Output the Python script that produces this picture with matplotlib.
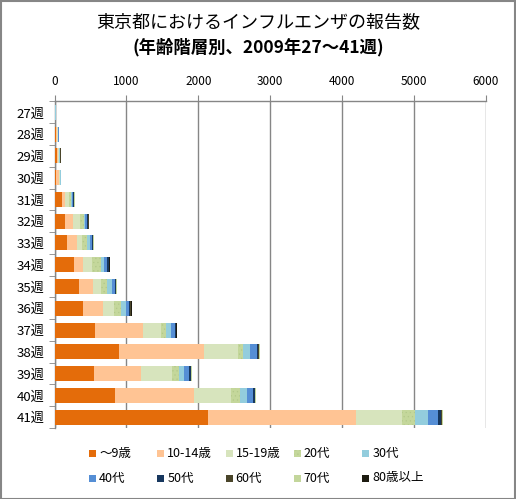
import numpy as np
import matplotlib.pyplot as plt
from matplotlib.patches import Rectangle

plt.rcParams['font.family'] = ['Noto Sans CJK JP', 'DejaVu Sans']
plt.rcParams['hatch.linewidth'] = 0.4

weeks = ['27週', '28週', '29週', '30週', '31週', '32週', '33週', '34週',
         '35週', '36週', '37週', '38週', '39週', '40週', '41週']

age_groups = ['～9歳', '10-14歳', '15-19歳', '20代', '30代',
              '40代', '50代', '60代', '70代', '80歳以上']

age_0_9 = [4, 22, 30, 18, 100, 152, 180, 270, 343, 393, 565, 899, 552, 843, 2136]
age_10_14 = [3, 14, 20, 40, 50, 100, 130, 130, 195, 287, 667, 1182, 654, 1099, 2059]
age_15_19 = [3, 8, 12, 14, 55, 97, 70, 125, 111, 148, 250, 473, 431, 515, 640]
age_20s = [2, 4, 6, 10, 28, 55, 65, 125, 83, 97, 65, 70, 97, 125, 181]
age_30s = [2, 6, 5, 3, 14, 18, 42, 42, 70, 70, 70, 97, 70, 97, 181]
age_40s = [1, 2, 3, 2, 14, 23, 37, 37, 37, 37, 56, 97, 70, 83, 139]
age_50s = [1, 1, 3, 1, 14, 14, 14, 23, 14, 23, 14, 14, 23, 28, 42]
age_60s = [6, 0, 8, 0, 3, 14, 2, 3, 3, 3, 3, 14, 3, 3, 10]
age_70s = [2, 1, 3, 1, 3, 3, 14, 3, 14, 3, 3, 14, 14, 14, 14]
age_80p = [1, 0, 0, 0, 0, 0, 0, 14, 0, 23, 14, 0, 0, 0, 3]

series = [age_0_9, age_10_14, age_15_19, age_20s, age_30s,
          age_40s, age_50s, age_60s, age_70s, age_80p]

colors = ['#E46C0A', '#FFC494', '#D7E4BD', '#C4D79B', '#93CDDD',
          '#558ED5', '#17375E', '#4A452A', '#C3D69B', '#1D1B10']

W, H = 516, 499
fig = plt.figure(figsize=(W / 100, H / 100), dpi=100)
ax = fig.add_axes([54.5 / W, 1 - 428 / H, (486 - 54.5) / W, (428 - 101.5) / H])

y = np.arange(len(weeks))
left = np.zeros(len(weeks))
for name, vals, c in zip(age_groups, series, colors):
    vals = np.array(vals, dtype=float)
    if name == '20代':
        ax.barh(y, vals, left=left, height=0.69, color=c, label=name,
                hatch='....', edgecolor='#B3C98A', linewidth=0, zorder=3)
    else:
        ax.barh(y, vals, left=left, height=0.69, color=c, label=name,
                linewidth=0, zorder=3)
    left += vals

ax.set_xlim(0, 6000)
ax.set_ylim(len(weeks) - 0.5, -0.5)
ax.set_xticks(np.arange(0, 6001, 1000))
ax.xaxis.tick_top()
ax.tick_params(axis='x', length=4, color='#868686', labelsize=8.5, pad=6)
ax.grid(axis='x', color='#868686', linewidth=1, zorder=0)

ax.set_yticks(y)
ax.set_yticklabels(weeks, fontsize=9.5)
ax.tick_params(axis='y', length=0, pad=7)
ax.set_yticks(np.arange(-0.5, len(weeks), 1), minor=True)
ax.tick_params(axis='y', which='minor', length=4, color='#868686')

for s in ['right', 'bottom']:
    ax.spines[s].set_visible(False)
for s in ['top', 'left']:
    ax.spines[s].set_color('#868686')
    ax.spines[s].set_linewidth(1)

fig.text(0.5, 1 - 22 / H, '東京都におけるインフルエンザの報告数', ha='center', va='center',
         fontsize=13)
fig.text(0.5, 1 - 47 / H, '(年齢階層別、2009年27～41週)', ha='center', va='center',
         fontsize=12.5, fontweight='bold')

# legend, laid out row by row like Excel
for i, (name, c) in enumerate(zip(age_groups, colors)):
    col, row = i % 5, i // 5
    lx = 89 + col * 68.3
    ly = 453 + row * 25
    sq = Rectangle((lx / W, 1 - (ly + 3.5) / H), 7 / W, 7 / H,
                   transform=fig.transFigure, facecolor=c, linewidth=0,
                   hatch='....' if name == '20代' else None,
                   edgecolor='#B3C98A' if name == '20代' else c)
    fig.patches.append(sq)
    fig.text((lx + 10) / W, 1 - ly / H, name, ha='left', va='center', fontsize=9)

fig.patches.append(Rectangle((0.001, 0.001), 0.997, 0.997, transform=fig.transFigure,
                             fill=False, edgecolor='#868686', linewidth=1.5))

fig.savefig('out.png', dpi=100)
